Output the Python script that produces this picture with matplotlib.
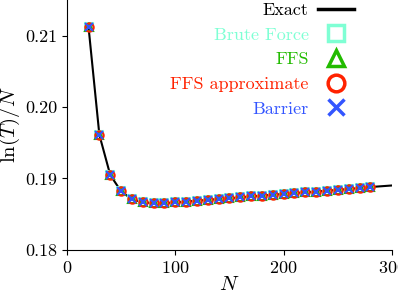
import matplotlib
matplotlib.use('Agg')
import matplotlib.pyplot as plt
from matplotlib.lines import Line2D
import numpy as np

matplotlib.rcParams.update({
    'font.family': 'serif',
    'font.serif': ['cmr10'],
    'mathtext.fontset': 'cm',
    'axes.formatter.use_mathtext': True,
    'font.size': 13,
})

# Simulation points
N = [20, 30, 40, 50, 60, 70, 80, 90, 100, 110, 120, 130, 140, 150, 160,
     170, 180, 190, 200, 210, 220, 230, 240, 250, 260, 270, 280]
lnT_N = [0.2112, 0.1961, 0.1905, 0.1882, 0.1871, 0.18667, 0.18653, 0.18653,
         0.18665, 0.18676, 0.18688, 0.1870, 0.18712, 0.18722, 0.18735,
         0.18748, 0.1876, 0.18772, 0.18783, 0.18795, 0.18805, 0.18817,
         0.18828, 0.18840, 0.18852, 0.18866, 0.18880]

# Exact curve
N_exact = N + [290, 300]
lnT_N_exact = lnT_N + [0.18891, 0.18902]

labels = ['Exact', 'Brute Force', 'FFS', 'FFS approximate', 'Barrier']
colors = ['k', '#7fffd4', '#22bb00', '#ff2200', '#3355ff']
markers = [None, 's', '^', 'o', 'x']

fig = plt.figure(figsize=(3.98, 2.95), dpi=100)
ax = fig.add_axes([0.168, 0.153, 0.817, 0.847])

ax.plot(N_exact, lnT_N_exact, 'k-', lw=1.5, zorder=1)
for m, c in zip(markers[1:], colors[1:]):
    ax.plot(N, lnT_N, marker=m, ls='none', ms=6,
            mfc='none' if m != 'x' else c, mec=c, mew=1.5)

# bigger legend handles, as in the original figure
handles = [Line2D([], [], color='k', lw=2.5)]
for m, c in zip(markers[1:], colors[1:]):
    handles.append(Line2D([], [], marker=m, ls='none', ms=12,
                          mfc='none' if m != 'x' else c, mec=c, mew=2.5))

ax.set_xlim(0, 300)
ax.set_ylim(0.18, 0.215)
ax.set_xticks([0, 100, 200, 300])
ax.set_yticks([0.18, 0.19, 0.20, 0.21])
ax.set_yticklabels(['0.18', '0.19', '0.20', '0.21'])
ax.spines['top'].set_visible(False)
ax.spines['right'].set_visible(False)
ax.set_xlabel('$N$', fontsize=15, labelpad=0)
ax.set_ylabel(r'$\ln(T)/N$', fontsize=15, labelpad=2)

leg = ax.legend(handles, labels, loc='upper right',
                bbox_to_anchor=(0.905, 1.02), markerfirst=False,
                frameon=False, fontsize=13, handlelength=2.0,
                handletextpad=0.5, labelspacing=0.5, borderaxespad=0.0,
                labelcolor=colors)
leg._legend_box.align = 'right'

fig.savefig('out.png', dpi=100)
